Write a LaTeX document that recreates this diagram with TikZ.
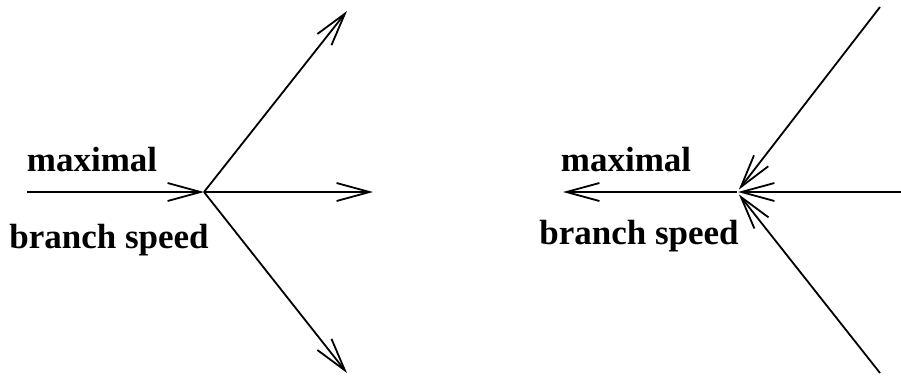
\documentclass[tikz,border=0pt]{standalone}
\usepackage{fontspec}
\setmainfont{Liberation Serif}
\usetikzlibrary{arrows.meta}
\tikzset{
  conn/.style={line width=1.8pt, -{Straight Barb[length=33pt,width=18pt,line width=1.8pt]}},
  plain/.style={line width=1.8pt},
  lbl/.style={font=\fontsize{35}{40}\selectfont\bfseries, inner sep=0pt}
}
\begin{document}
\begin{tikzpicture}[x=1pt,y=-1pt]
\useasboundingbox (0,0) rectangle (901,376);
% left figure
\coordinate (inL) at (27,192);
\coordinate (cL) at (204,192);
\coordinate (upL) at (347,11);
\coordinate (rL) at (373,192);
\coordinate (dnL) at (347,373);
\draw[conn] (inL) -- (cL);
\draw[conn] (cL) -- (upL);
\draw[conn] (cL) -- (rL);
\draw[conn] (cL) -- (dnL);
\node[lbl] (maxL) at (92,160) {maximal};
\node[lbl] (brL) at (109,240) {branch speed};
% right figure
\coordinate (cR) at (737,192);
\coordinate (outR) at (563,192);
\coordinate (inR) at (901,192);
\coordinate (upR) at (880,7);
\coordinate (dnR) at (880,373);
\draw[conn] (cR) -- (outR);
\draw[conn, shorten >=1pt] (inR) -- (cR);
\draw[conn, shorten >=3pt] (upR) -- (cR);
\draw[conn, shorten >=3pt] (dnR) -- (cR);
\node[lbl] (maxR) at (626,160) {maximal};
\node[lbl] (brR) at (639,236) {branch speed};
\end{tikzpicture}
\end{document}
